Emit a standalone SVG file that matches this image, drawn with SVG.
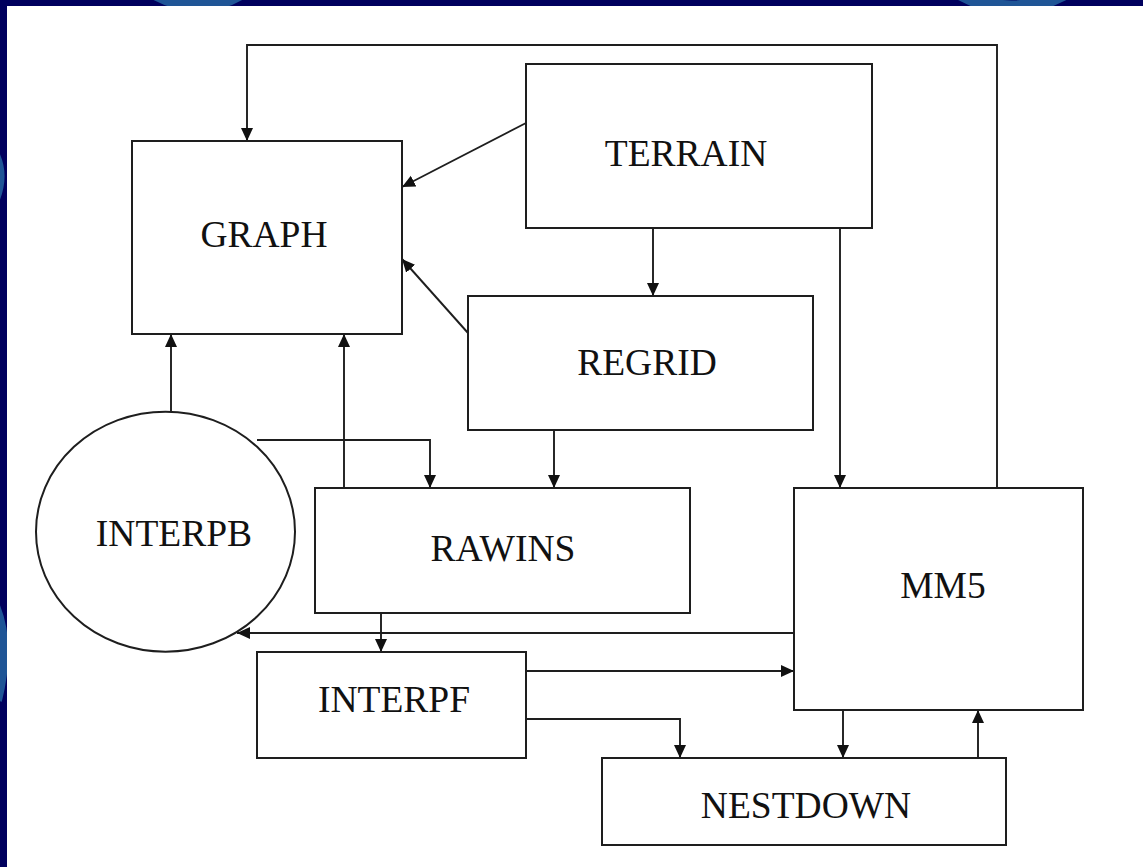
<svg xmlns="http://www.w3.org/2000/svg" width="1143" height="867" viewBox="0 0 1143 867">
<style>
.node rect, .node ellipse { fill: #ffffff; stroke: #1e1e1e; stroke-width: 2; }
.node text { font-family: "Liberation Serif", "Times New Roman", serif; font-size: 37.5px; fill: #111111; text-anchor: middle; }
#connectors path { fill: none; stroke: #1e1e1e; stroke-width: 1.9; }
.deco { fill: none; stroke: #1f5596; stroke-width: 14; }
</style>
<defs>
<marker id="arrow" markerUnits="userSpaceOnUse" markerWidth="14" markerHeight="13" refX="13" refY="6" orient="auto">
<path d="M0,0 L13,6 L0,12 z" fill="#111111"/>
</marker>
<clipPath id="frame"><rect x="0" y="0" width="1143" height="867"/></clipPath>
</defs>
<rect x="0" y="0" width="1143" height="867" fill="#00005e"/>
<g clip-path="url(#frame)">
<path class="deco" d="M150,-10 Q200,20 245,-10"/>
<path class="deco" d="M955,-10 Q1010,25 1070,-10"/>
<path class="deco" d="M-10,150 Q5,175 -10,205"/>
<path class="deco" d="M-10,600 Q10,640 -5,700" stroke-width="18"/>
</g>
<rect x="7" y="6" width="1136" height="861" fill="#ffffff"/>
<g id="connectors">
<path d="M997,488 L997,45 L247,45 L247,141" marker-end="url(#arrow)"/>
<path d="M526,123 L402,187" marker-end="url(#arrow)"/>
<path d="M468,333 L402,259" marker-end="url(#arrow)"/>
<path d="M653,228 L653,296" marker-end="url(#arrow)"/>
<path d="M840,228 L840,488" marker-end="url(#arrow)"/>
<path d="M554,430 L554,488" marker-end="url(#arrow)"/>
<path d="M257,440 L430,440 L430,488" marker-end="url(#arrow)"/>
<path d="M344,488 L344,334" marker-end="url(#arrow)"/>
<path d="M171,412 L171,334" marker-end="url(#arrow)"/>
<path d="M794,633 L237,633" marker-end="url(#arrow)"/>
<path d="M381,613 L381,652" marker-end="url(#arrow)"/>
<path d="M526,671 L794,671" marker-end="url(#arrow)"/>
<path d="M526,719 L680,719 L680,758" marker-end="url(#arrow)"/>
<path d="M843,710 L843,758" marker-end="url(#arrow)"/>
<path d="M978,758 L978,710" marker-end="url(#arrow)"/>
</g>
<g id="graph" class="node">
<rect x="132" y="141" width="270" height="193"/>
<text x="264" y="247">GRAPH</text>
</g>
<g id="terrain" class="node">
<rect x="526" y="64" width="346" height="164"/>
<text x="686" y="166">TERRAIN</text>
</g>
<g id="regrid" class="node">
<rect x="468" y="296" width="345" height="134"/>
<text x="647" y="375">REGRID</text>
</g>
<g id="interpb" class="node">
<ellipse cx="165.5" cy="531.7" rx="129.5" ry="120"/>
<text x="174" y="546">INTERPB</text>
</g>
<g id="rawins" class="node">
<rect x="315" y="488" width="375" height="125"/>
<text x="503" y="561">RAWINS</text>
</g>
<g id="mm5" class="node">
<rect x="794" y="488" width="289" height="222"/>
<text x="943" y="598">MM5</text>
</g>
<g id="interpf" class="node">
<rect x="257" y="652" width="269" height="106"/>
<text x="394" y="712">INTERPF</text>
</g>
<g id="nestdown" class="node">
<rect x="602" y="758" width="404" height="87"/>
<text x="806" y="818">NESTDOWN</text>
</g>
</svg>
